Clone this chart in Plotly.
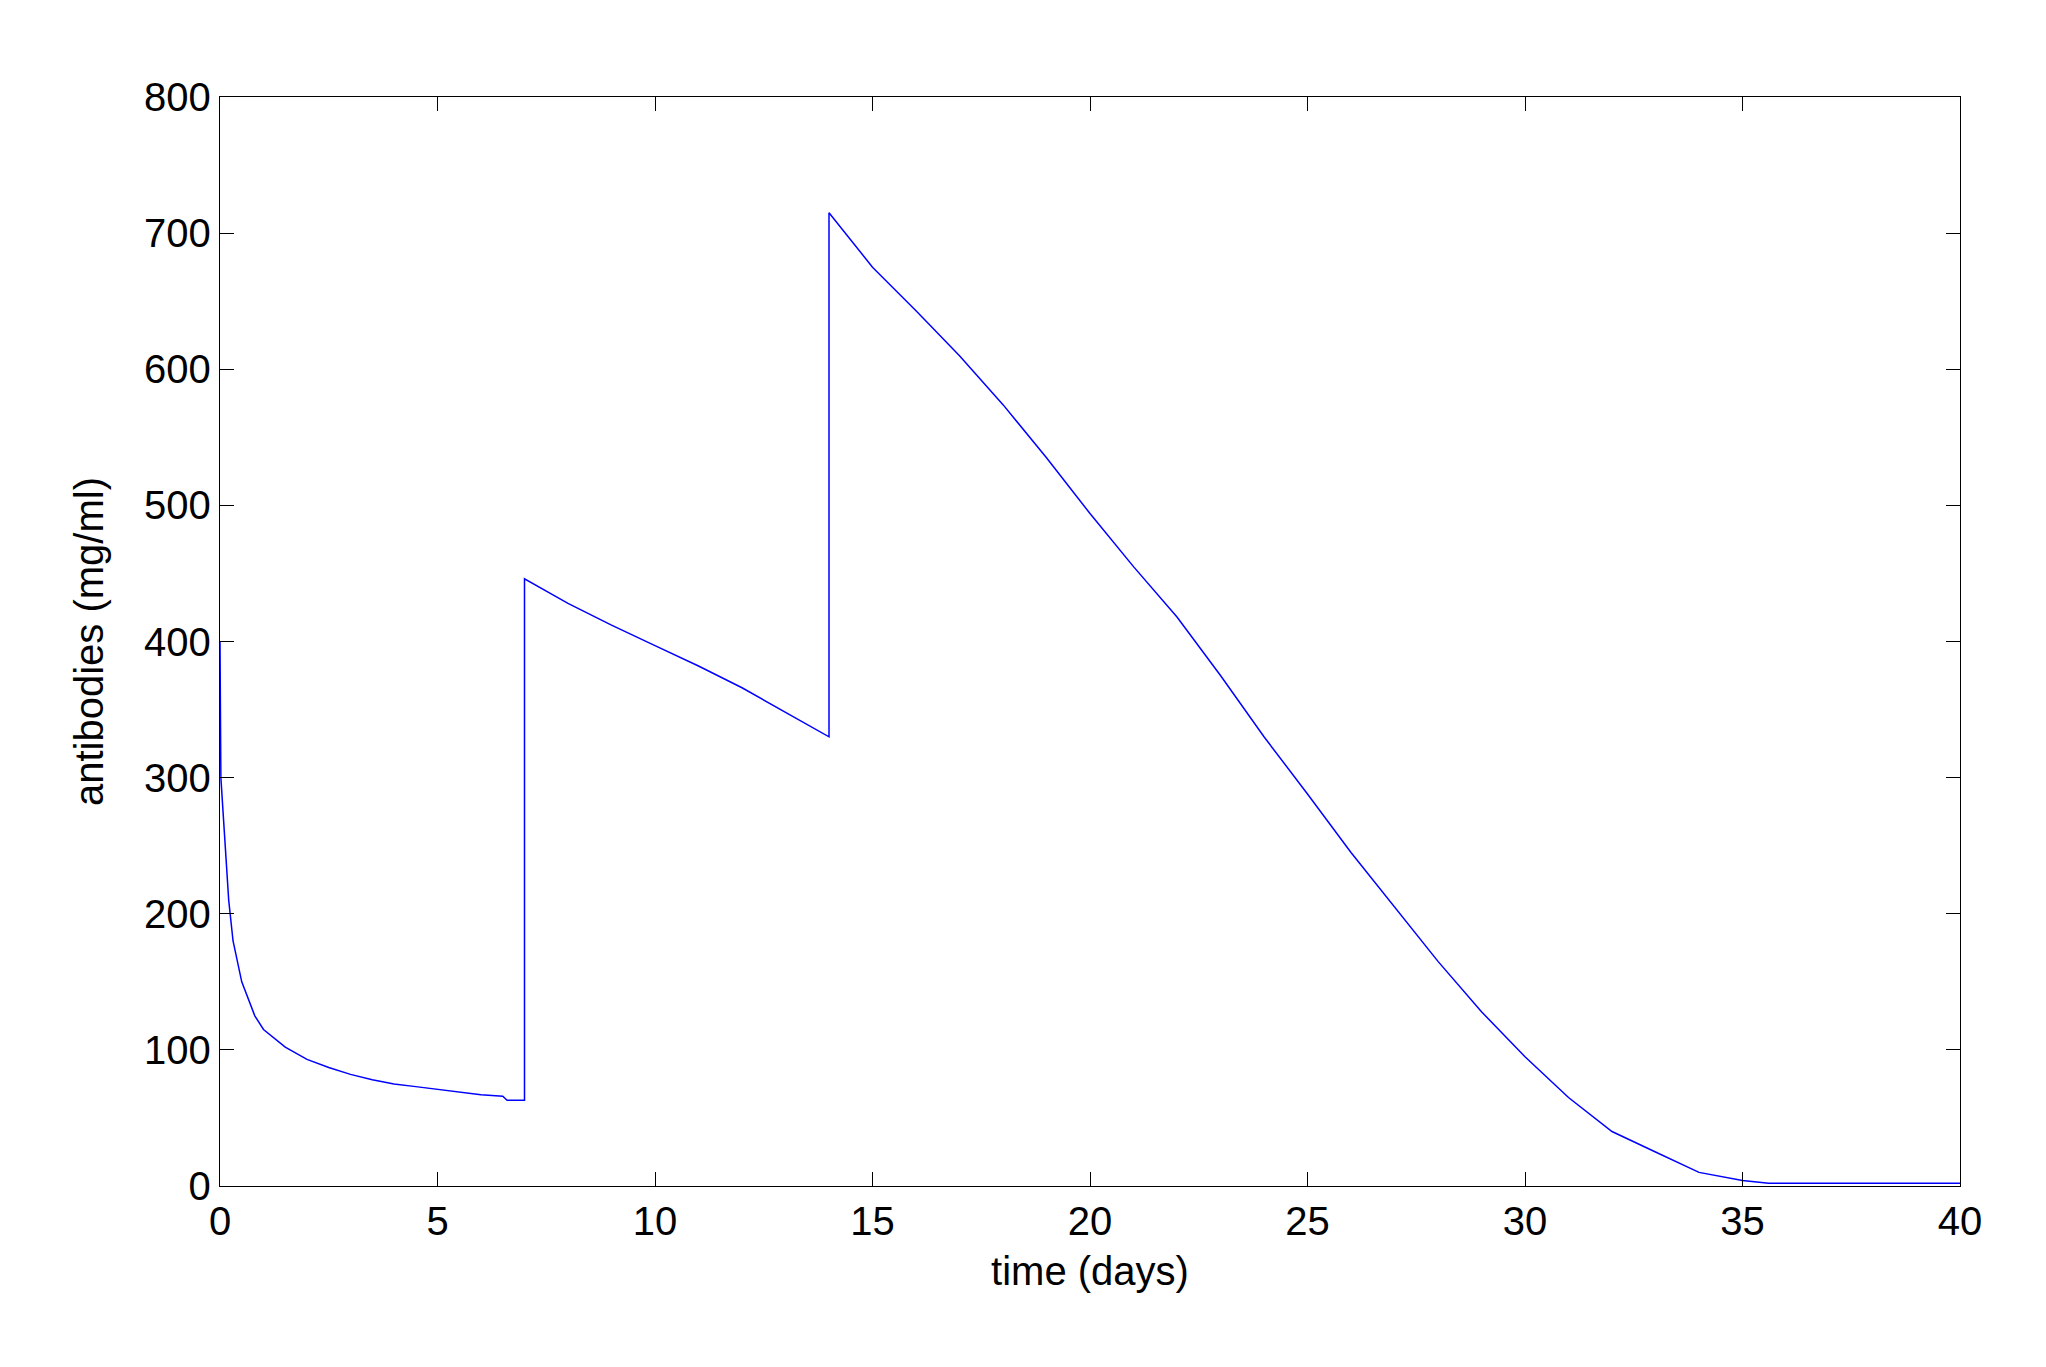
import plotly.graph_objects as go

t = [0, 0.02, 0.1, 0.2, 0.3, 0.5, 0.8, 1, 1.5, 2, 2.5, 3, 3.5, 4, 4.5, 5, 5.5, 6, 6.5, 6.6, 7,
     7, 8, 9, 10, 11, 12, 13, 14,
     14, 14.5, 15, 16, 17, 18, 19, 20, 21, 22, 23, 24, 25, 26, 27, 28, 29, 30, 31, 32, 33, 34, 35, 35.6, 40]
ab = [400, 300, 260, 210, 180, 150, 125, 115, 102, 93, 87, 82, 78, 75, 73, 71, 69, 67, 66, 63, 63,
      446, 428, 412, 397, 382, 366, 348, 330,
      715, 695, 675, 643, 610, 574, 535, 494, 455, 418, 375, 330, 288, 245, 205, 165, 128, 95, 65, 40, 25, 10, 4, 2, 2]

fig = go.Figure(go.Scatter(x=t, y=ab, mode="lines", line=dict(color="#0000ff", width=1.5)))
ax = dict(showgrid=False, zeroline=False, showline=True, mirror="ticks", linecolor="black",
          linewidth=1.3, ticks="inside", ticklen=14, tickcolor="black",
          tickfont=dict(size=40, color="black"))
fig.update_layout(
    width=2046, height=1367, plot_bgcolor="white", paper_bgcolor="white",
    font=dict(family="Liberation Sans, Arial, sans-serif", color="black"),
    margin=dict(l=212, r=94, t=89, b=189), showlegend=False,
    xaxis=dict(range=[0, 40], dtick=5, title=dict(text="time (days)", font=dict(size=40), standoff=14), **ax),
    yaxis=dict(range=[0, 800], dtick=100, title=dict(text="antibodies (mg/ml)", font=dict(size=40), standoff=28), **ax),
)
fig.write_html("out.html")
